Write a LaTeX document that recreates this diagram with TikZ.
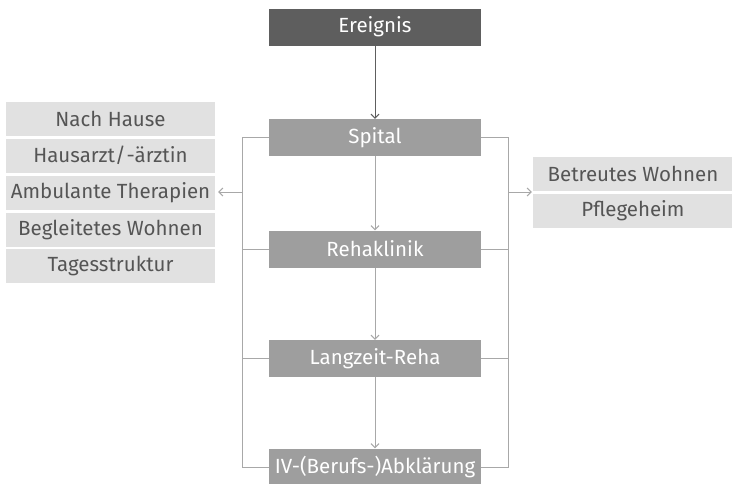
\documentclass[tikz,border=0pt]{standalone}
\usepackage{fontspec}
\setmainfont{Fira Sans}
\usetikzlibrary{arrows, arrows.meta}

\definecolor{eventgray}{HTML}{5E5E5E}
\definecolor{stagegray}{HTML}{9E9E9E}
\definecolor{exitgray}{HTML}{E1E1E1}
\definecolor{exittext}{HTML}{555555}
\definecolor{linkgray}{HTML}{A8A8A8}

\begin{document}
\begin{tikzpicture}[x=1pt, y=-1pt, >={Straight Barb[length=4pt, width=8pt]},
        stage/.style={fill=stagegray, text=white, minimum width=212pt, minimum height=37pt, inner sep=0pt, font=\fontsize{20.5}{24}\selectfont},
        exit/.style={fill=exitgray, text=exittext, minimum width=209pt, minimum height=34pt, inner sep=0pt, font=\fontsize{20.5}{24}\selectfont},
        link/.style={draw=linkgray, line width=1pt}]
        \useasboundingbox (0,0) rectangle (732,483);

        \node[stage, fill=eventgray] (ereignis) at (375,27) {Ereignis};
        \node[stage] (spital) at (375,137.5) {Spital};
        \node[stage] (reha) at (375,249) {Rehaklinik};
        \node[stage] (langzeit) at (375,358.5) {Langzeit-Reha};
        \node[stage] (iv) at (375,467) {IV-(Berufs-)Abklärung};

        \foreach \name/\y/\txt in {hause/119/{Nach Hause}, arzt/155.5/{Hausarzt/\kern1pt-ärztin}, ambulant/192.5/{Ambulante Therapien}, begleitet/229.5/{Begleitetes Wohnen}, tages/266/{Tagesstruktur}} {
            \node[exit] (\name) at (110.5,\y) {\txt};
        }
        \node[exit, minimum width=200pt] (betreut) at (633,174) {Betreutes Wohnen};
        \node[exit, minimum width=200pt] (pflege) at (633,211) {Pflegeheim};

        \coordinate (lbar) at (242,192);
        \coordinate (rbar) at (508,192);

        \draw[link, draw=eventgray, ->] (ereignis) -- (spital);
        \draw[link, ->] (spital) -- (reha);
        \draw[link, ->] (reha) -- (langzeit);
        \draw[link, ->] (langzeit) -- (iv);

        \draw[link] (spital.west) -| (lbar |- iv.west) -- (iv.west);
        \draw[link] (reha.west) -- (reha.west -| lbar) (langzeit.west) -- (langzeit.west -| lbar);
        \draw[link, ->, shorten >=3pt] (lbar) -- (ambulant.east |- lbar);

        \draw[link] (spital.east) -| (rbar |- iv.east) -- (iv.east);
        \draw[link] (reha.east) -- (reha.east -| rbar) (langzeit.east) -- (langzeit.east -| rbar);
        \draw[link, ->, shorten >=1pt] (rbar) -- (betreut.west |- rbar);

    \end{tikzpicture}
\end{document}
